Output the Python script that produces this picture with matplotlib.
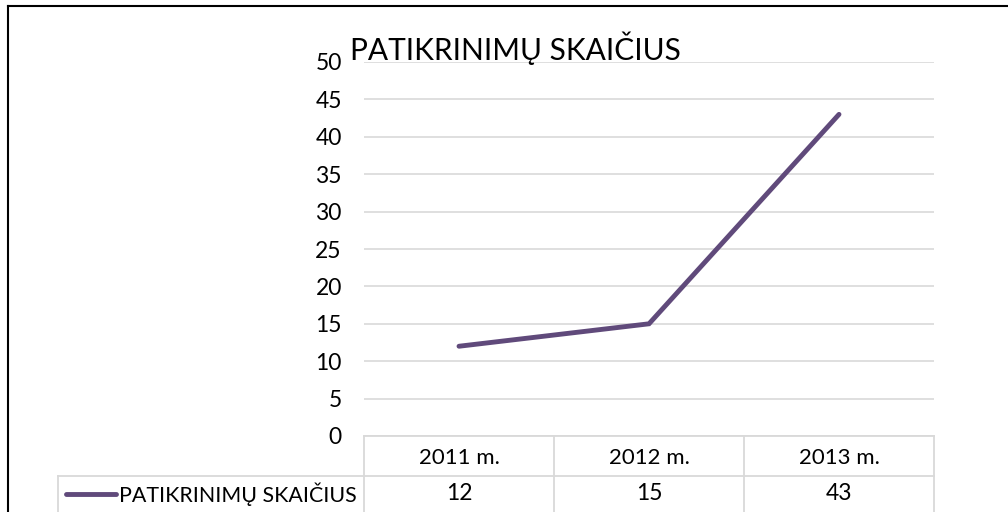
import matplotlib
matplotlib.use("Agg")
import matplotlib.pyplot as plt
from matplotlib.lines import Line2D
from matplotlib.transforms import blended_transform_factory

plt.rcParams['font.family'] = ['Lato', 'DejaVu Sans']

categories = ["2011 m.", "2012 m.", "2013 m."]
values = [12, 15, 43]
series_name = "PATIKRINIMŲ SKAIČIUS"
y_ticks = [0, 5, 10, 15, 20, 25, 30, 35, 40, 45, 50]

W, H = 1008, 512
line_color = "#604A7B"
grid_color = "#d9d9d9"

fig = plt.figure(figsize=(W / 100, H / 100), dpi=100)
ax = fig.add_axes([364 / W, 1 - 436 / H, (934 - 364) / W, (436 - 62) / H])

x = list(range(len(categories)))
ax.plot(x, values, color=line_color, lw=3.5, solid_capstyle="round",
        solid_joinstyle="miter", zorder=3)

ax.set_xlim(-0.5, len(categories) - 0.5)
ax.set_ylim(0, 50)
ax.set_yticks(y_ticks)
ax.set_yticklabels([str(t) for t in y_ticks], fontsize=16.5)
ax.set_xticks([])
ax.tick_params(axis="y", length=0, pad=16)
ax.grid(axis="y", color=grid_color, lw=1.2)
ax.set_axisbelow(True)
for s in ax.spines.values():
    s.set_visible(False)

# data table under the plot
tr = blended_transform_factory(ax.transData, fig.transFigure)
ftr = fig.transFigure
row1_top = 1 - 436 / H
row1_bot = 1 - 476 / H
row2_bot = 1 - 516 / H
kw = dict(color=grid_color, lw=1.3, clip_on=False)

fig.add_artist(Line2D([-0.5, 2.5], [row1_top, row1_top], transform=tr, **kw))
fig.add_artist(Line2D([58 / W, 934 / W], [row1_bot, row1_bot], transform=ftr, **kw))
for c in [-0.5, 0.5, 1.5, 2.5]:
    fig.add_artist(Line2D([c, c], [row1_top, row2_bot], transform=tr, **kw))
fig.add_artist(Line2D([58 / W, 58 / W], [row1_bot, row2_bot], transform=ftr, **kw))

for i, cat in enumerate(categories):
    fig.text(i, (row1_top + row1_bot) / 2 - 0.004, cat, transform=tr, ha="center",
             va="center", fontsize=16)
    fig.text(i, (row1_bot + row2_bot) / 2 + 0.004, str(values[i]), transform=tr,
             ha="center", va="center", fontsize=16.5)

# legend key in table
ky = (row1_bot + row2_bot) / 2 + 0.004
fig.add_artist(Line2D([66 / W, 116 / W], [ky, ky], transform=ftr, color=line_color,
                      lw=3.5, solid_capstyle="round"))
fig.text(119 / W, ky, series_name, transform=ftr, ha="left", va="center", fontsize=15.4)

# title
fig.text(350 / W, 1 - 60 / H, series_name, ha="left", va="baseline", fontsize=21.5)

# chart border (top and left visible)
fig.add_artist(Line2D([7.5 / W, 1], [1 - 5.5 / H, 1 - 5.5 / H], transform=ftr, color="black", lw=1.5))
fig.add_artist(Line2D([7.5 / W, 7.5 / W], [0, 1 - 5.5 / H], transform=ftr, color="black", lw=1.5))

fig.savefig("out.png", dpi=100)
